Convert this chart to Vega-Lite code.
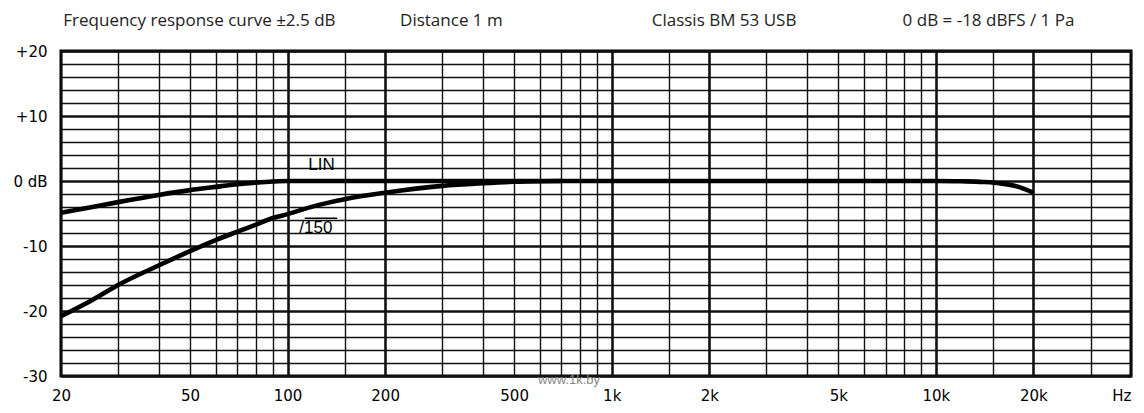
{
  "$schema": "https://vega.github.io/schema/vega-lite/v6.json",
  "width": 1070,
  "height": 325,
  "autosize": "none",
  "padding": {"left": 61, "top": 51, "right": 13, "bottom": 37},
  "background": "white",
  "config": {
    "view": {"stroke": "#000", "strokeWidth": 3},
    "axis": {"domain": false, "ticks": false, "tickSize": 0, "title": null, "labelColor": "#000", "labelFont": "DejaVu Sans", "labelFontSize": 15, "labelOverlap": false, "labelFlush": false, "labelBound": false, "gridColor": "#111", "gridOpacity": 1}
  },
  "datasets": {
    "curves": [
      {"curve": "LIN", "freq": 20, "db": -4.9},
      {"curve": "LIN", "freq": 25, "db": -4.0},
      {"curve": "LIN", "freq": 30, "db": -3.25},
      {"curve": "LIN", "freq": 40, "db": -2.15},
      {"curve": "LIN", "freq": 50, "db": -1.4},
      {"curve": "LIN", "freq": 60, "db": -0.9},
      {"curve": "LIN", "freq": 70, "db": -0.5},
      {"curve": "LIN", "freq": 80, "db": -0.25},
      {"curve": "LIN", "freq": 90, "db": -0.08},
      {"curve": "LIN", "freq": 100, "db": 0},
      {"curve": "LIN", "freq": 200, "db": 0},
      {"curve": "LIN", "freq": 1000, "db": 0},
      {"curve": "LIN", "freq": 5000, "db": 0},
      {"curve": "LIN", "freq": 10000, "db": 0},
      {"curve": "LIN", "freq": 12000, "db": -0.05},
      {"curve": "LIN", "freq": 14000, "db": -0.15},
      {"curve": "LIN", "freq": 16000, "db": -0.4},
      {"curve": "LIN", "freq": 18000, "db": -0.9},
      {"curve": "LIN", "freq": 20000, "db": -1.8},
      {"curve": "150", "freq": 20, "db": -20.8},
      {"curve": "150", "freq": 25, "db": -18.3},
      {"curve": "150", "freq": 30, "db": -16.0},
      {"curve": "150", "freq": 40, "db": -13.0},
      {"curve": "150", "freq": 50, "db": -10.8},
      {"curve": "150", "freq": 60, "db": -9.1},
      {"curve": "150", "freq": 70, "db": -7.8},
      {"curve": "150", "freq": 80, "db": -6.7},
      {"curve": "150", "freq": 90, "db": -5.7},
      {"curve": "150", "freq": 100, "db": -5.1},
      {"curve": "150", "freq": 120, "db": -3.9},
      {"curve": "150", "freq": 150, "db": -2.8},
      {"curve": "150", "freq": 200, "db": -1.8},
      {"curve": "150", "freq": 300, "db": -0.75},
      {"curve": "150", "freq": 400, "db": -0.35},
      {"curve": "150", "freq": 500, "db": -0.12},
      {"curve": "150", "freq": 600, "db": -0.03},
      {"curve": "150", "freq": 700, "db": 0}
    ],
    "header": [
      {"text": "Frequency response curve ±2.5 dB", "freq": 20.33, "db": 23.9},
      {"text": "Distance 1 m", "freq": 222.4, "db": 23.9},
      {"text": "Classis BM 53 USB", "freq": 1328.6, "db": 23.9},
      {"text": "0 dB = -18 dBFS / 1 Pa", "freq": 7896, "db": 23.9}
    ],
    "notes": [
      {"text": "LIN", "freq": 127.3, "db": 2.4},
      {"text": "/150", "freq": 122.3, "db": -7.3}
    ],
    "overline": [
      {"f1": 113, "f2": 142.3, "db": -5.74}
    ],
    "watermark": [
      {"text": "www.1k.by", "freq": 592, "db": -31.2}
    ]
  },
  "layer": [
    {
      "data": {"name": "curves"},
      "mark": {"type": "line", "color": "#000", "strokeWidth": 4.6, "interpolate": "monotone", "strokeCap": "butt"},
      "encoding": {
        "x": {
          "field": "freq", "type": "quantitative",
          "scale": {"type": "log", "domain": [20, 40000], "nice": false},
          "axis": {
            "values": [20, 30, 40, 50, 60, 70, 80, 90, 100, 150, 200, 300, 400, 500, 600, 700, 800, 900, 1000, 1500, 2000, 3000, 4000, 5000, 6000, 7000, 8000, 9000, 10000, 15000, 20000, 30000, 40000],
            "tickCount": 200,
            "labelExpr": "datum.value == 40000 ? 'Hz' : (indexof([20, 50, 100, 200, 500], datum.value) >= 0 ? '' + datum.value : (indexof([1000, 2000, 5000, 10000, 20000], datum.value) >= 0 ? (datum.value / 1000) + 'k' : ''))",
            "labelPadding": 12,
            "labelAlign": {"condition": {"test": "datum.value == 40000", "value": "right"}, "value": "center"},
            "gridWidth": {"condition": {"test": "indexof([100, 200, 1000, 2000, 10000, 20000], datum.value) >= 0", "value": 2.6}, "value": 1.4}
          }
        },
        "y": {
          "field": "db", "type": "quantitative",
          "scale": {"domain": [-30, 20], "nice": false, "zero": false},
          "axis": {
            "values": [-30, -28, -26, -24, -22, -20, -18, -16, -14, -12, -10, -8, -6, -4, -2, 0, 2, 4, 6, 8, 10, 12, 14, 16, 18, 20],
            "tickCount": 200,
            "labelExpr": "datum.value % 10 != 0 ? '' : (datum.value > 0 ? '+' + datum.value : (datum.value == 0 ? '0 dB' : '-' + abs(datum.value)))",
            "labelPadding": 14,
            "labelBaseline": "middle",
            "gridWidth": {"condition": {"test": "datum.value % 10 == 0", "value": 2.6}, "value": 1.4}
          }
        },
        "detail": {"field": "curve"}
      }
    },
    {
      "data": {"name": "overline"},
      "mark": {"type": "rule", "color": "#000", "strokeWidth": 1.6},
      "encoding": {
        "x": {"field": "f1", "type": "quantitative"},
        "x2": {"field": "f2"},
        "y": {"field": "db", "type": "quantitative"}
      }
    },
    {
      "data": {"name": "notes"},
      "mark": {"type": "text", "font": "Liberation Sans", "fontSize": 17, "color": "#000", "baseline": "middle", "align": "center"},
      "encoding": {
        "x": {"field": "freq", "type": "quantitative"},
        "y": {"field": "db", "type": "quantitative"},
        "text": {"field": "text"}
      }
    },
    {
      "data": {"name": "header"},
      "mark": {"type": "text", "font": "Open Sans", "fontSize": 17, "color": "#222", "align": "left", "baseline": "alphabetic"},
      "encoding": {
        "x": {"field": "freq", "type": "quantitative"},
        "y": {"field": "db", "type": "quantitative"},
        "text": {"field": "text"}
      }
    },
    {
      "data": {"name": "watermark"},
      "mark": {"type": "text", "font": "Liberation Sans", "fontSize": 13, "color": "#888", "align": "left", "baseline": "alphabetic"},
      "encoding": {
        "x": {"field": "freq", "type": "quantitative"},
        "y": {"field": "db", "type": "quantitative"},
        "text": {"field": "text"}
      }
    }
  ]
}
